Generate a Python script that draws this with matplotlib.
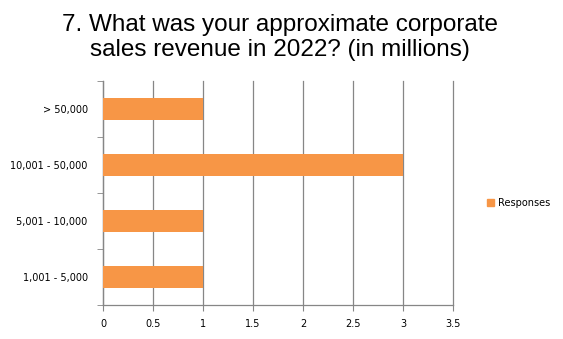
import matplotlib
matplotlib.use("Agg")
import matplotlib.pyplot as plt
from matplotlib.patches import Patch

categories = ["1,001 - 5,000", "5,001 - 10,000", "10,001 - 50,000", "> 50,000"]
responses = [1, 1, 3, 1]
xticks = [0, 0.5, 1, 1.5, 2, 2.5, 3, 3.5]
xticklabels = ["0", "0.5", "1", "1.5", "2", "2.5", "3", "3.5"]

bar_color = "#F79646"
grid_color = "#868686"

fig = plt.figure(figsize=(5.63, 3.39), dpi=100)
ax = fig.add_axes([103/563, 1 - 305/339, 350/563, 224/339])

ax.barh(range(len(categories)), responses, height=0.4, color=bar_color, zorder=3)
ax.set_xlim(0, 3.5)
ax.set_ylim(-0.5, len(categories) - 0.5)
ax.set_xticks(xticks)
ax.set_xticklabels(xticklabels, fontsize=7, family="DejaVu Sans")
ax.set_yticks(range(len(categories)))
ax.set_yticklabels(categories, fontsize=7, family="DejaVu Sans")
ax.set_yticks([i + 0.5 for i in range(-1, len(categories))], minor=True)
ax.tick_params(axis="y", which="major", length=0, pad=11)
ax.tick_params(axis="y", which="minor", length=4, color=grid_color)
ax.tick_params(axis="x", which="major", length=4, color=grid_color, direction="out", pad=6)
ax.grid(axis="x", color=grid_color, linewidth=0.9, zorder=0)
for gl in ax.get_xgridlines():
    gl.set_clip_on(False)
for side in ["top", "right"]:
    ax.spines[side].set_visible(False)
for side in ["left", "bottom"]:
    ax.spines[side].set_color(grid_color)
    ax.spines[side].set_linewidth(0.9)

fig.text(0.497, 0.96, "7. What was your approximate corporate\nsales revenue in 2022? (in millions)",
         ha="center", va="top", fontsize=17.5, family="Liberation Sans", linespacing=1.2)

fig.legend(handles=[Patch(color=bar_color, label="Responses")], loc="center left",
           bbox_to_anchor=(478/563, 1 - 203/339), frameon=False, fontsize=7,
           handlelength=0.7, handleheight=0.7, handletextpad=0.5)

fig.savefig("out.png", dpi=100)
